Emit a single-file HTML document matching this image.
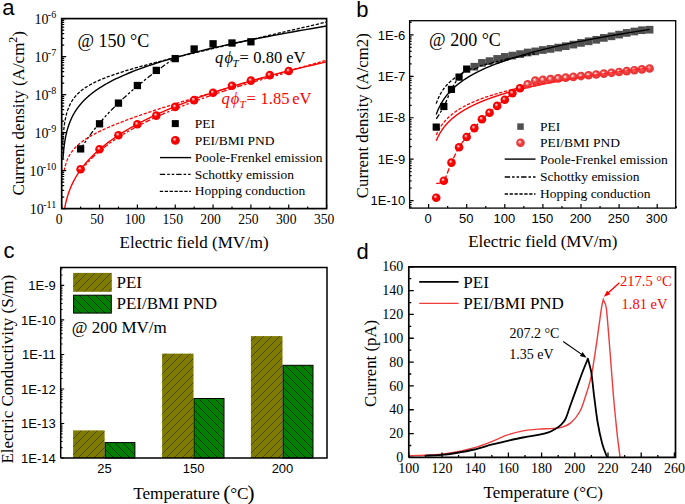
<!DOCTYPE html>
<html><head><meta charset="utf-8"><style>
html,body{margin:0;padding:0;background:#fff;width:685px;height:504px;overflow:hidden}
svg{display:block}

</style></head><body>
<svg width="685" height="504" viewBox="0 0 685 504">
<defs>
<radialGradient id="ball" cx="0.5" cy="0.5" r="0.5" fx="0.36" fy="0.34">
<stop offset="0" stop-color="#fff"/><stop offset="0.22" stop-color="#ff8080"/><stop offset="0.45" stop-color="#f00"/><stop offset="1" stop-color="#e00"/>
</radialGradient>
<radialGradient id="ball2" cx="0.5" cy="0.5" r="0.5" fx="0.38" fy="0.36">
<stop offset="0" stop-color="#fff"/><stop offset="0.25" stop-color="#f59a9a"/><stop offset="0.5" stop-color="#ee4040"/><stop offset="1" stop-color="#e83030"/>
</radialGradient>
<pattern id="hp" patternUnits="userSpaceOnUse" width="8" height="8"><rect width="8" height="8" fill="#7f7a00"/><path d="M-2,2 L2,-2 M0,8 L8,0 M6,10 L10,6" stroke="#454200" stroke-width="0.85"/></pattern>
<pattern id="hg" patternUnits="userSpaceOnUse" width="8" height="8"><rect width="8" height="8" fill="#008000"/><path d="M-2,6 L2,10 M0,0 L8,8 M6,-2 L10,2" stroke="#002400" stroke-width="0.85"/></pattern>
</defs>
<g id="A">
<path d="M62.98,158.61 L63.02,158.08 L63.05,157.55 L63.09,157.02 L63.13,156.49 L63.17,155.96 L63.21,155.42 L63.26,154.89 L63.3,154.36 L63.35,153.83 L63.39,153.29 L63.44,152.76 L63.49,152.23 L63.54,151.69 L63.59,151.16 L63.64,150.62 L63.7,150.08 L63.75,149.55 L63.81,149.01 L63.87,148.47 L63.93,147.94 L64,147.4 L64.06,146.86 L64.13,146.32 L64.2,145.78 L64.27,145.24 L64.34,144.7 L64.41,144.16 L64.49,143.61 L64.57,143.07 L64.65,142.53 L64.73,141.98 L64.82,141.44 L64.9,140.9 L64.99,140.35 L65.09,139.8 L65.18,139.26 L65.28,138.71 L65.38,138.16 L65.48,137.61 L65.59,137.06 L65.7,136.51 L65.81,135.96 L65.93,135.41 L66.05,134.86 L66.17,134.31 L66.3,133.75 L66.43,133.2 L66.56,132.64 L66.7,132.09 L66.84,131.53 L66.98,130.97 L67.13,130.41 L67.28,129.85 L67.44,129.29 L67.6,128.73 L67.77,128.17 L67.94,127.61 L68.11,127.04 L68.29,126.48 L68.48,125.91 L68.67,125.34 L68.87,124.78 L69.07,124.21 L69.28,123.64 L69.49,123.07 L69.71,122.5 L69.94,121.92 L70.17,121.35 L70.41,120.77 L70.65,120.2 L70.9,119.62 L71.16,119.04 L71.43,118.46 L71.7,117.88 L71.98,117.3 L72.27,116.71 L72.57,116.13 L72.88,115.54 L73.19,114.95 L73.52,114.36 L73.85,113.77 L74.19,113.18 L74.54,112.59 L74.9,111.99 L75.28,111.39 L75.66,110.8 L76.05,110.2 L76.45,109.59 L76.87,108.99 L77.3,108.39 L77.74,107.78 L78.19,107.17 L78.65,106.56 L79.13,105.95 L79.62,105.34 L80.12,104.72 L80.64,104.1 L81.18,103.48 L81.72,102.86 L82.29,102.24 L82.87,101.61 L83.46,100.98 L84.08,100.35 L84.71,99.72 L85.36,99.09 L86.02,98.45 L86.71,97.81 L87.41,97.17 L88.13,96.53 L88.88,95.88 L89.64,95.23 L90.43,94.58 L91.24,93.93 L92.07,93.27 L92.93,92.61 L93.81,91.95 L94.71,91.28 L95.64,90.61 L96.59,89.94 L97.58,89.27 L98.59,88.59 L99.63,87.91 L100.69,87.23 L101.79,86.54 L102.92,85.85 L104.08,85.16 L105.27,84.46 L106.5,83.76 L107.76,83.05 L109.06,82.34 L110.39,81.63 L111.76,80.91 L113.17,80.19 L114.62,79.47 L116.11,78.74 L117.65,78.01 L119.22,77.27 L120.84,76.53 L122.51,75.78 L124.22,75.03 L125.98,74.28 L127.79,73.52 L129.65,72.75 L131.56,71.98 L133.53,71.2 L135.55,70.42 L137.63,69.64 L139.77,68.84 L141.97,68.05 L144.23,67.24 L146.55,66.43 L148.94,65.62 L151.4,64.8 L153.92,63.97 L156.52,63.13 L159.19,62.29 L161.93,61.45 L164.75,60.59 L167.66,59.73 L170.64,58.86 L173.71,57.98 L176.86,57.1 L180.1,56.21 L183.44,55.31 L186.86,54.4 L190.39,53.48 L194.01,52.56 L197.74,51.63 L201.57,50.69 L205.51,49.73 L209.56,48.77 L213.72,47.8 L218,46.82 L222.4,45.83 L226.92,44.83 L231.58,43.82 L236.36,42.8 L241.28,41.77 L246.33,40.73 L251.53,39.67 L256.88,38.61 L262.37,37.53 L268.02,36.44 L273.83,35.34 L279.81,34.22 L285.95,33.09 L292.26,31.95 L298.75,30.79 L305.43,29.62 L312.29,28.44 L319.35,27.24 L326.6,26.02" fill="none" stroke="#000" stroke-width="1.4"/>
<path d="M62.46,149.73 L62.48,149.17 L62.5,148.61 L62.52,148.05 L62.55,147.49 L62.57,146.93 L62.59,146.37 L62.62,145.82 L62.64,145.26 L62.67,144.7 L62.7,144.15 L62.72,143.6 L62.75,143.04 L62.78,142.49 L62.81,141.94 L62.84,141.39 L62.87,140.85 L62.91,140.3 L62.94,139.75 L62.97,139.21 L63.01,138.66 L63.05,138.12 L63.08,137.58 L63.12,137.03 L63.16,136.49 L63.2,135.95 L63.24,135.42 L63.28,134.88 L63.33,134.34 L63.37,133.81 L63.42,133.27 L63.47,132.74 L63.52,132.21 L63.57,131.68 L63.62,131.15 L63.67,130.62 L63.72,130.1 L63.78,129.57 L63.84,129.04 L63.9,128.52 L63.96,128 L64.02,127.48 L64.08,126.96 L64.15,126.44 L64.22,125.92 L64.29,125.41 L64.36,124.89 L64.43,124.38 L64.51,123.86 L64.58,123.35 L64.66,122.84 L64.75,122.34 L64.83,121.83 L64.92,121.32 L65,120.82 L65.1,120.31 L65.19,119.81 L65.29,119.31 L65.39,118.81 L65.49,118.31 L65.59,117.82 L65.7,117.32 L65.81,116.83 L65.92,116.34 L66.04,115.84 L66.16,115.35 L66.28,114.87 L66.41,114.38 L66.54,113.89 L66.67,113.41 L66.81,112.92 L66.95,112.44 L67.1,111.96 L67.24,111.48 L67.4,111.01 L67.55,110.53 L67.72,110.06 L67.88,109.58 L68.05,109.11 L68.23,108.64 L68.41,108.17 L68.59,107.7 L68.78,107.23 L68.98,106.77 L69.18,106.31 L69.39,105.84 L69.6,105.38 L69.82,104.92 L70.04,104.46 L70.27,104.01 L70.51,103.55 L70.75,103.1 L71,102.64 L71.26,102.19 L71.52,101.74 L71.79,101.29 L72.07,100.84 L72.36,100.39 L72.65,99.95 L72.95,99.5 L73.26,99.06 L73.58,98.61 L73.91,98.17 L74.25,97.73 L74.6,97.29 L74.95,96.85 L75.32,96.42 L75.69,95.98 L76.08,95.54 L76.48,95.11 L76.88,94.67 L77.3,94.24 L77.73,93.81 L78.18,93.37 L78.63,92.94 L79.1,92.51 L79.58,92.08 L80.07,91.65 L80.58,91.22 L81.1,90.79 L81.64,90.36 L82.19,89.93 L82.75,89.51 L83.33,89.08 L83.93,88.65 L84.54,88.22 L85.17,87.79 L85.82,87.36 L86.49,86.93 L87.17,86.5 L87.88,86.07 L88.6,85.64 L89.34,85.21 L90.1,84.78 L90.89,84.35 L91.69,83.91 L92.52,83.48 L93.37,83.04 L94.25,82.6 L95.14,82.16 L96.07,81.72 L97.02,81.28 L97.99,80.83 L98.99,80.39 L100.02,79.94 L101.08,79.49 L102.17,79.03 L103.28,78.58 L104.43,78.12 L105.61,77.66 L106.82,77.19 L108.07,76.72 L109.35,76.25 L110.67,75.77 L112.02,75.29 L113.41,74.8 L114.83,74.31 L116.3,73.82 L117.81,73.32 L119.36,72.81 L120.95,72.3 L122.58,71.79 L124.26,71.26 L125.99,70.73 L127.77,70.2 L129.59,69.65 L131.46,69.1 L133.39,68.54 L135.37,67.98 L137.4,67.4 L139.49,66.82 L141.64,66.22 L143.84,65.62 L146.11,65.01 L148.44,64.38 L150.84,63.75 L153.3,63.1 L155.83,62.44 L158.42,61.77 L161.09,61.09 L163.84,60.39 L166.66,59.68 L169.55,58.96 L172.53,58.22 L175.59,57.46 L178.73,56.69 L181.96,55.9 L185.28,55.09 L188.7,54.27 L192.2,53.43 L195.8,52.56 L199.51,51.68 L203.31,50.78 L207.22,49.85 L211.23,48.9 L215.36,47.93 L219.6,46.93 L223.96,45.91 L228.44,44.86 L233.04,43.79 L237.77,42.69 L242.63,41.56 L247.63,40.39 L252.76,39.2 L258.04,37.98 L263.46,36.72 L269.02,35.43 L274.75,34.1 L280.63,32.74 L286.67,31.34 L292.88,29.9 L299.26,28.41 L305.82,26.89 L312.56,25.32 L319.48,23.71 L326.6,22.05" fill="none" stroke="#000" stroke-width="1.3" stroke-dasharray="3.3 1.6"/>
<path d="M80.62,149.18 L82.22,146.56 L83.83,144.04 L85.43,141.61 L87.04,139.27 L88.64,136.99 L90.24,134.78 L91.85,132.63 L93.45,130.54 L95.05,128.51 L96.66,126.52 L98.26,124.57 L99.86,122.67 L101.47,120.81 L103.07,118.98 L104.67,117.19 L106.28,115.43 L107.88,113.71 L109.48,112.01 L111.09,110.34 L112.69,108.7 L114.3,107.09 L115.9,105.49 L117.5,103.93 L119.11,102.38 L120.71,100.86 L122.31,99.36 L123.92,97.87 L125.52,96.41 L127.12,94.96 L128.73,93.53 L130.33,92.12 L131.93,90.73 L133.54,89.35 L135.14,87.98 L136.74,86.64 L138.35,85.3 L139.95,83.98 L141.55,82.67 L143.16,81.38 L144.76,80.1 L146.37,78.83 L147.97,77.57 L149.57,76.33 L151.18,75.09 L152.78,73.87 L154.38,72.66 L155.99,71.45 L157.59,70.26 L159.19,69.08 L160.8,67.91 L162.4,66.75 L164,65.59 L165.61,64.45 L167.21,63.31 L168.81,62.18 L170.42,61.07 L172.02,59.96 L173.63,58.85 L175.23,57.76" fill="none" stroke="#000" stroke-width="1.3" stroke-dasharray="5.4 2 2.5 2 2.5 2"/>
<path d="M64.65,208.33 L64.71,207.99 L64.78,207.65 L64.84,207.31 L64.9,206.97 L64.97,206.62 L65.04,206.27 L65.11,205.93 L65.18,205.58 L65.25,205.22 L65.32,204.87 L65.4,204.52 L65.48,204.16 L65.55,203.8 L65.63,203.44 L65.72,203.08 L65.8,202.72 L65.88,202.36 L65.97,201.99 L66.06,201.62 L66.15,201.25 L66.24,200.88 L66.34,200.51 L66.43,200.13 L66.53,199.76 L66.63,199.38 L66.73,199 L66.84,198.62 L66.95,198.23 L67.05,197.85 L67.17,197.46 L67.28,197.07 L67.39,196.68 L67.51,196.28 L67.63,195.89 L67.76,195.49 L67.88,195.09 L68.01,194.69 L68.14,194.29 L68.27,193.88 L68.41,193.47 L68.55,193.07 L68.69,192.65 L68.84,192.24 L68.99,191.82 L69.14,191.41 L69.29,190.99 L69.45,190.56 L69.61,190.14 L69.77,189.71 L69.94,189.28 L70.11,188.85 L70.29,188.42 L70.46,187.98 L70.65,187.54 L70.83,187.1 L71.02,186.66 L71.21,186.21 L71.41,185.76 L71.61,185.31 L71.82,184.86 L72.03,184.4 L72.24,183.95 L72.46,183.49 L72.69,183.02 L72.91,182.56 L73.15,182.09 L73.38,181.62 L73.63,181.14 L73.87,180.67 L74.13,180.19 L74.38,179.71 L74.65,179.22 L74.92,178.73 L75.19,178.24 L75.47,177.75 L75.76,177.25 L76.05,176.75 L76.34,176.25 L76.65,175.75 L76.96,175.24 L77.27,174.73 L77.6,174.22 L77.93,173.7 L78.26,173.18 L78.61,172.66 L78.96,172.13 L79.32,171.6 L79.68,171.07 L80.06,170.53 L80.44,169.99 L80.82,169.45 L81.22,168.9 L81.63,168.36 L82.04,167.8 L82.46,167.25 L82.89,166.69 L83.33,166.13 L83.78,165.56 L84.24,164.99 L84.71,164.42 L85.18,163.84 L85.67,163.26 L86.17,162.68 L86.68,162.09 L87.19,161.5 L87.72,160.9 L88.26,160.31 L88.81,159.7 L89.38,159.1 L89.95,158.49 L90.54,157.87 L91.14,157.26 L91.75,156.63 L92.37,156.01 L93.01,155.38 L93.66,154.74 L94.32,154.11 L95,153.47 L95.69,152.82 L96.39,152.17 L97.11,151.52 L97.85,150.86 L98.6,150.19 L99.36,149.53 L100.14,148.86 L100.94,148.18 L101.75,147.5 L102.58,146.82 L103.43,146.13 L104.3,145.43 L105.18,144.74 L106.08,144.03 L107.01,143.33 L107.95,142.62 L108.9,141.9 L109.88,141.18 L110.88,140.45 L111.9,139.72 L112.95,138.99 L114.01,138.25 L115.09,137.5 L116.2,136.75 L117.33,136 L118.49,135.24 L119.66,134.47 L120.87,133.7 L122.09,132.93 L123.35,132.15 L124.63,131.37 L125.93,130.58 L127.26,129.78 L128.62,128.98 L130.01,128.17 L131.43,127.36 L132.88,126.55 L134.35,125.72 L135.86,124.9 L137.4,124.07 L138.97,123.23 L140.57,122.38 L142.21,121.53 L143.88,120.68 L145.58,119.82 L147.33,118.95 L149.1,118.08 L150.91,117.21 L152.77,116.32 L154.66,115.43 L156.58,114.54 L158.55,113.64 L160.56,112.73 L162.61,111.82 L164.71,110.9 L166.84,109.98 L169.02,109.05 L171.25,108.11 L173.52,107.17 L175.84,106.22 L178.21,105.27 L180.63,104.31 L183.1,103.34 L185.61,102.37 L188.19,101.39 L190.81,100.41 L193.49,99.41 L196.22,98.42 L199.01,97.41 L201.86,96.4 L204.77,95.39 L207.74,94.36 L210.77,93.33 L213.86,92.3 L217.02,91.26 L220.24,90.21 L223.53,89.15 L226.89,88.09 L230.31,87.02 L233.81,85.95 L237.38,84.87 L241.03,83.78 L244.75,82.69 L248.54,81.58 L252.42,80.48 L256.38,79.36 L260.42,78.24 L264.54,77.11 L268.75,75.98 L273.04,74.84 L277.43,73.69 L281.9,72.54 L286.47,71.38 L291.13,70.21 L295.89,69.04 L300.75,67.85 L305.71,66.67 L310.77,65.47 L315.94,64.27 L321.22,63.06 L326.6,61.85" fill="none" stroke="#f00" stroke-width="1.4"/>
<path d="M64.15,170.86 L64.2,170.57 L64.26,170.27 L64.31,169.98 L64.37,169.69 L64.43,169.39 L64.49,169.1 L64.55,168.81 L64.62,168.51 L64.68,168.22 L64.75,167.93 L64.82,167.63 L64.88,167.34 L64.95,167.05 L65.03,166.75 L65.1,166.46 L65.18,166.17 L65.25,165.87 L65.33,165.58 L65.41,165.29 L65.49,165 L65.58,164.7 L65.66,164.41 L65.75,164.12 L65.84,163.82 L65.93,163.53 L66.03,163.24 L66.12,162.95 L66.22,162.65 L66.32,162.36 L66.42,162.07 L66.53,161.77 L66.63,161.48 L66.74,161.19 L66.85,160.89 L66.97,160.6 L67.08,160.31 L67.2,160.01 L67.33,159.72 L67.45,159.43 L67.58,159.13 L67.71,158.84 L67.84,158.54 L67.98,158.25 L68.11,157.96 L68.26,157.66 L68.4,157.37 L68.55,157.07 L68.7,156.78 L68.86,156.48 L69.01,156.18 L69.18,155.89 L69.34,155.59 L69.51,155.3 L69.68,155 L69.86,154.7 L70.04,154.4 L70.23,154.11 L70.41,153.81 L70.61,153.51 L70.8,153.21 L71.01,152.91 L71.21,152.61 L71.42,152.31 L71.64,152.01 L71.86,151.71 L72.08,151.4 L72.31,151.1 L72.55,150.8 L72.79,150.5 L73.03,150.19 L73.28,149.89 L73.54,149.58 L73.8,149.27 L74.07,148.97 L74.34,148.66 L74.62,148.35 L74.91,148.04 L75.2,147.73 L75.5,147.42 L75.8,147.11 L76.12,146.79 L76.44,146.48 L76.76,146.17 L77.1,145.85 L77.44,145.53 L77.78,145.21 L78.14,144.9 L78.5,144.58 L78.88,144.25 L79.26,143.93 L79.64,143.61 L80.04,143.28 L80.45,142.95 L80.86,142.63 L81.29,142.3 L81.72,141.97 L82.16,141.63 L82.62,141.3 L83.08,140.96 L83.55,140.63 L84.03,140.29 L84.53,139.94 L85.03,139.6 L85.55,139.26 L86.08,138.91 L86.62,138.56 L87.17,138.21 L87.73,137.86 L88.31,137.5 L88.9,137.14 L89.5,136.78 L90.11,136.42 L90.74,136.05 L91.39,135.69 L92.04,135.32 L92.71,134.94 L93.4,134.57 L94.1,134.19 L94.82,133.81 L95.55,133.42 L96.3,133.04 L97.07,132.64 L97.85,132.25 L98.65,131.85 L99.47,131.45 L100.3,131.05 L101.16,130.64 L102.03,130.23 L102.92,129.81 L103.83,129.39 L104.77,128.97 L105.72,128.54 L106.69,128.11 L107.69,127.67 L108.71,127.23 L109.75,126.78 L110.81,126.33 L111.9,125.87 L113.01,125.41 L114.14,124.95 L115.3,124.47 L116.49,124 L117.7,123.51 L118.94,123.03 L120.21,122.53 L121.5,122.03 L122.83,121.53 L124.18,121.01 L125.56,120.49 L126.97,119.97 L128.42,119.43 L129.89,118.89 L131.4,118.34 L132.95,117.79 L134.52,117.23 L136.13,116.66 L137.78,116.08 L139.46,115.49 L141.19,114.9 L142.94,114.29 L144.74,113.68 L146.58,113.06 L148.46,112.43 L150.38,111.79 L152.34,111.14 L154.35,110.47 L156.4,109.8 L158.49,109.12 L160.63,108.43 L162.82,107.73 L165.06,107.01 L167.35,106.28 L169.68,105.55 L172.07,104.8 L174.52,104.03 L177.01,103.26 L179.56,102.47 L182.17,101.66 L184.84,100.85 L187.56,100.02 L190.35,99.17 L193.2,98.31 L196.11,97.43 L199.08,96.54 L202.12,95.64 L205.23,94.71 L208.4,93.77 L211.65,92.81 L214.97,91.84 L218.36,90.85 L221.82,89.83 L225.37,88.8 L228.99,87.75 L232.69,86.68 L236.48,85.59 L240.34,84.48 L244.3,83.35 L248.34,82.19 L252.47,81.02 L256.69,79.82 L261,78.59 L265.41,77.35 L269.92,76.07 L274.53,74.78 L279.24,73.45 L284.05,72.11 L288.97,70.73 L294,69.32 L299.14,67.89 L304.39,66.43 L309.77,64.94 L315.25,63.42 L320.87,61.86 L326.6,60.28" fill="none" stroke="#f00" stroke-width="1.3" stroke-dasharray="3.3 1.6"/>
<path d="M80.62,171.22 L83.26,167.74 L85.89,164.55 L88.53,161.6 L91.16,158.86 L93.79,156.28 L96.43,153.85 L99.06,151.55 L101.7,149.35 L104.33,147.25 L106.97,145.24 L109.6,143.31 L112.24,141.45 L114.87,139.66 L117.51,137.92 L120.14,136.24 L122.78,134.61 L125.41,133.02 L128.04,131.48 L130.68,129.97 L133.31,128.51 L135.95,127.08 L138.58,125.68 L141.22,124.31 L143.85,122.98 L146.49,121.67 L149.12,120.38 L151.76,119.12 L154.39,117.89 L157.03,116.68 L159.66,115.48 L162.29,114.31 L164.93,113.16 L167.56,112.03 L170.2,110.91 L172.83,109.81 L175.47,108.73 L178.1,107.67 L180.74,106.62 L183.37,105.58 L186.01,104.56 L188.64,103.55 L191.28,102.55 L193.91,101.57 L196.55,100.6 L199.18,99.64 L201.81,98.69 L204.45,97.76 L207.08,96.83 L209.72,95.92 L212.35,95.01 L214.99,94.12 L217.62,93.23 L220.26,92.35 L222.89,91.49 L225.53,90.63 L228.16,89.78 L230.8,88.93 L233.43,88.1 L236.06,87.27 L238.7,86.46 L241.33,85.64 L243.97,84.84 L246.6,84.04 L249.24,83.25 L251.87,82.47 L254.51,81.69 L257.14,80.92 L259.78,80.16 L262.41,79.4 L265.05,78.65 L267.68,77.9 L270.31,77.16 L272.95,76.43 L275.58,75.7 L278.22,74.98 L280.85,74.26 L283.49,73.55 L286.12,72.84 L288.76,72.13" fill="none" stroke="#f00" stroke-width="1.3" stroke-dasharray="5.4 2 2.5 2 2.5 2"/>
<rect x="76.97" y="145.25" width="7.3" height="7.3" fill="#000"/>
<rect x="95.89" y="120.15" width="7.3" height="7.3" fill="#000"/>
<rect x="114.81" y="99.45" width="7.3" height="7.3" fill="#000"/>
<rect x="133.74" y="81.85" width="7.3" height="7.3" fill="#000"/>
<rect x="152.66" y="66.75" width="7.3" height="7.3" fill="#000"/>
<rect x="171.58" y="54.95" width="7.3" height="7.3" fill="#000"/>
<rect x="190.5" y="45.35" width="7.3" height="7.3" fill="#000"/>
<rect x="209.42" y="40.15" width="7.3" height="7.3" fill="#000"/>
<rect x="228.34" y="39.35" width="7.3" height="7.3" fill="#000"/>
<rect x="247.26" y="38.15" width="7.3" height="7.3" fill="#000"/>
<circle cx="80.62" cy="169.3" r="4.3" fill="url(#ball)"/>
<circle cx="99.54" cy="149.3" r="4.3" fill="url(#ball)"/>
<circle cx="118.46" cy="135.2" r="4.3" fill="url(#ball)"/>
<circle cx="137.39" cy="124.3" r="4.3" fill="url(#ball)"/>
<circle cx="156.31" cy="115.6" r="4.3" fill="url(#ball)"/>
<circle cx="175.23" cy="106.9" r="4.3" fill="url(#ball)"/>
<circle cx="194.15" cy="100.1" r="4.3" fill="url(#ball)"/>
<circle cx="213.07" cy="92.8" r="4.3" fill="url(#ball)"/>
<circle cx="231.99" cy="85.8" r="4.3" fill="url(#ball)"/>
<circle cx="250.91" cy="80.6" r="4.3" fill="url(#ball)"/>
<circle cx="269.84" cy="75.1" r="4.3" fill="url(#ball)"/>
<circle cx="288.76" cy="71" r="4.3" fill="url(#ball)"/>
<rect x="61.7" y="18.6" width="264.9" height="190" fill="none" stroke="#000" stroke-width="1.7"/>
<path d="M61.7,208.6 h4.5 M61.7,197.16 h2.5 M61.7,190.47 h2.5 M61.7,185.72 h2.5 M61.7,182.04 h2.5 M61.7,179.03 h2.5 M61.7,176.49 h2.5 M61.7,174.28 h2.5 M61.7,172.34 h2.5 M61.7,170.6 h4.5 M61.7,159.16 h2.5 M61.7,152.47 h2.5 M61.7,147.72 h2.5 M61.7,144.04 h2.5 M61.7,141.03 h2.5 M61.7,138.49 h2.5 M61.7,136.28 h2.5 M61.7,134.34 h2.5 M61.7,132.6 h4.5 M61.7,121.16 h2.5 M61.7,114.47 h2.5 M61.7,109.72 h2.5 M61.7,106.04 h2.5 M61.7,103.03 h2.5 M61.7,100.49 h2.5 M61.7,98.28 h2.5 M61.7,96.34 h2.5 M61.7,94.6 h4.5 M61.7,83.16 h2.5 M61.7,76.47 h2.5 M61.7,71.72 h2.5 M61.7,68.04 h2.5 M61.7,65.03 h2.5 M61.7,62.49 h2.5 M61.7,60.28 h2.5 M61.7,58.34 h2.5 M61.7,56.6 h4.5 M61.7,45.16 h2.5 M61.7,38.47 h2.5 M61.7,33.72 h2.5 M61.7,30.04 h2.5 M61.7,27.03 h2.5 M61.7,24.49 h2.5 M61.7,22.28 h2.5 M61.7,20.34 h2.5 M61.7,18.6 h4.5 M61.7,208.6 v-4 M80.62,208.6 v-2 M99.54,208.6 v-4 M118.46,208.6 v-2 M137.39,208.6 v-4 M156.31,208.6 v-2 M175.23,208.6 v-4 M194.15,208.6 v-2 M213.07,208.6 v-4 M231.99,208.6 v-2 M250.91,208.6 v-4 M269.84,208.6 v-2 M288.76,208.6 v-4 M307.68,208.6 v-2 M326.6,208.6 v-4" stroke="#000" stroke-width="1.2" fill="none"/>
<text x="56.2" y="213.8" text-anchor="end" font-family="Liberation Serif" font-size="14">10<tspan font-size="10" dy="-5.6" dx="-0.6">-11</tspan></text>
<text x="56.2" y="175.8" text-anchor="end" font-family="Liberation Serif" font-size="14">10<tspan font-size="10" dy="-5.6" dx="-0.6">-10</tspan></text>
<text x="56.2" y="137.8" text-anchor="end" font-family="Liberation Serif" font-size="14">10<tspan font-size="10" dy="-5.6" dx="-0.6">-9</tspan></text>
<text x="56.2" y="99.8" text-anchor="end" font-family="Liberation Serif" font-size="14">10<tspan font-size="10" dy="-5.6" dx="-0.6">-8</tspan></text>
<text x="56.2" y="61.8" text-anchor="end" font-family="Liberation Serif" font-size="14">10<tspan font-size="10" dy="-5.6" dx="-0.6">-7</tspan></text>
<text x="56.2" y="23.8" text-anchor="end" font-family="Liberation Serif" font-size="14">10<tspan font-size="10" dy="-5.6" dx="-0.6">-6</tspan></text>
<text x="59.2" y="223.6" text-anchor="middle" font-family="Liberation Serif" font-size="13.6">0</text>
<text x="97.04" y="223.6" text-anchor="middle" font-family="Liberation Serif" font-size="13.6">50</text>
<text x="134.89" y="223.6" text-anchor="middle" font-family="Liberation Serif" font-size="13.6">100</text>
<text x="172.73" y="223.6" text-anchor="middle" font-family="Liberation Serif" font-size="13.6">150</text>
<text x="210.57" y="223.6" text-anchor="middle" font-family="Liberation Serif" font-size="13.6">200</text>
<text x="248.41" y="223.6" text-anchor="middle" font-family="Liberation Serif" font-size="13.6">250</text>
<text x="286.26" y="223.6" text-anchor="middle" font-family="Liberation Serif" font-size="13.6">300</text>
<text x="324.1" y="223.6" text-anchor="middle" font-family="Liberation Serif" font-size="13.6">350</text>
<text transform="translate(24,195.6) rotate(-90)" font-family="Liberation Serif" font-size="17">Current density (A/cm<tspan font-size="12" dy="-7">2</tspan><tspan dy="7">)</tspan></text>
<text x="119.6" y="248.4" font-family="Liberation Serif" font-size="17">Electric field (MV/m)</text>
<text x="77.4" y="46.7" font-family="Liberation Serif" font-size="18">@ 150 °C</text>
<g fill="#000" font-family="Liberation Serif" font-size="16.5"><text x="215" y="62.6" font-style="italic">q</text><text x="224.6" y="62.6" font-style="italic">ϕ</text><text x="232.4" y="66.8" font-style="italic" font-size="11">T</text><text x="239.5" y="62.6">=</text><text x="253.3" y="62.6">0.80</text><text x="286.3" y="62.6">eV</text></g>
<g fill="#f00" font-family="Liberation Serif" font-size="16.5"><text x="221.6" y="104.1" font-style="italic">q</text><text x="230.7" y="104.1" font-style="italic">ϕ</text><text x="239.4" y="108.3" font-style="italic" font-size="11">T</text><text x="246.5" y="104.1">=</text><text x="260.5" y="104.1">1.85</text><text x="292.2" y="104.1">eV</text></g>
<rect x="171.8" y="120.1" width="7" height="7" fill="#000"/>
<circle cx="175.4" cy="140.4" r="4.4" fill="url(#ball)"/>
<path d="M160,157.6 H191.2" stroke="#000" stroke-width="1.4"/>
<path d="M159.8,174.4 H191" stroke="#000" stroke-width="1.3" stroke-dasharray="5.4 2 2.5 2 2.5 2"/>
<path d="M159.8,191.3 H191" stroke="#000" stroke-width="1.3" stroke-dasharray="3.3 1.6"/>
<text x="194.7" y="127.9" font-family="Liberation Serif" font-size="13.5">PEI</text>
<text x="194.7" y="144.9" font-family="Liberation Serif" font-size="13.5">PEI/BMI PND</text>
<text x="194.7" y="161.8" font-family="Liberation Serif" font-size="13.5">Poole-Frenkel emission</text>
<text x="194.7" y="178.8" font-family="Liberation Serif" font-size="13.5">Schottky emission</text>
<text x="194.7" y="195.4" font-family="Liberation Serif" font-size="13.5">Hopping conduction</text>
<text x="2.2" y="15.2" font-family="Liberation Sans" font-size="22">a</text>
</g>
<g id="B">
<path d="M436.22,114.53 L436.34,114.2 L436.46,113.86 L436.58,113.53 L436.7,113.2 L436.83,112.86 L436.96,112.53 L437.09,112.19 L437.22,111.86 L437.35,111.52 L437.49,111.19 L437.62,110.85 L437.76,110.52 L437.91,110.18 L438.05,109.85 L438.2,109.51 L438.35,109.17 L438.5,108.84 L438.65,108.5 L438.81,108.16 L438.96,107.83 L439.12,107.49 L439.29,107.15 L439.45,106.81 L439.62,106.47 L439.79,106.14 L439.97,105.8 L440.14,105.46 L440.32,105.12 L440.5,104.78 L440.69,104.44 L440.87,104.1 L441.06,103.76 L441.26,103.42 L441.45,103.08 L441.65,102.73 L441.85,102.39 L442.06,102.05 L442.27,101.71 L442.48,101.37 L442.69,101.02 L442.91,100.68 L443.13,100.34 L443.36,99.99 L443.59,99.65 L443.82,99.31 L444.06,98.96 L444.3,98.62 L444.54,98.27 L444.79,97.92 L445.04,97.58 L445.29,97.23 L445.55,96.89 L445.81,96.54 L446.08,96.19 L446.35,95.84 L446.63,95.5 L446.91,95.15 L447.19,94.8 L447.48,94.45 L447.77,94.1 L448.07,93.75 L448.37,93.4 L448.67,93.05 L448.99,92.7 L449.3,92.35 L449.62,92 L449.95,91.65 L450.28,91.29 L450.61,90.94 L450.96,90.59 L451.3,90.23 L451.65,89.88 L452.01,89.53 L452.37,89.17 L452.74,88.82 L453.12,88.46 L453.5,88.1 L453.88,87.75 L454.27,87.39 L454.67,87.03 L455.08,86.67 L455.49,86.32 L455.9,85.96 L456.33,85.6 L456.75,85.24 L457.19,84.88 L457.63,84.52 L458.08,84.16 L458.54,83.8 L459,83.43 L459.48,83.07 L459.95,82.71 L460.44,82.34 L460.93,81.98 L461.43,81.61 L461.94,81.25 L462.46,80.88 L462.98,80.52 L463.52,80.15 L464.06,79.78 L464.61,79.42 L465.17,79.05 L465.73,78.68 L466.31,78.31 L466.89,77.94 L467.49,77.57 L468.09,77.2 L468.7,76.82 L469.32,76.45 L469.95,76.08 L470.59,75.7 L471.24,75.33 L471.9,74.95 L472.57,74.58 L473.26,74.2 L473.95,73.82 L474.65,73.45 L475.36,73.07 L476.09,72.69 L476.82,72.31 L477.57,71.93 L478.33,71.55 L479.1,71.17 L479.88,70.78 L480.68,70.4 L481.49,70.02 L482.3,69.63 L483.14,69.25 L483.98,68.86 L484.84,68.47 L485.71,68.08 L486.6,67.7 L487.49,67.31 L488.41,66.92 L489.33,66.52 L490.28,66.13 L491.23,65.74 L492.2,65.35 L493.19,64.95 L494.19,64.56 L495.2,64.16 L496.24,63.76 L497.28,63.37 L498.35,62.97 L499.43,62.57 L500.53,62.17 L501.64,61.76 L502.77,61.36 L503.92,60.96 L505.09,60.55 L506.27,60.15 L507.48,59.74 L508.7,59.33 L509.94,58.93 L511.2,58.52 L512.48,58.11 L513.78,57.69 L515.1,57.28 L516.44,56.87 L517.8,56.45 L519.18,56.04 L520.59,55.62 L522.01,55.2 L523.46,54.78 L524.93,54.36 L526.42,53.94 L527.94,53.52 L529.48,53.09 L531.04,52.67 L532.63,52.24 L534.24,51.81 L535.88,51.38 L537.54,50.95 L539.23,50.52 L540.94,50.09 L542.68,49.66 L544.45,49.22 L546.24,48.78 L548.07,48.35 L549.92,47.91 L551.8,47.46 L553.71,47.02 L555.65,46.58 L557.61,46.13 L559.61,45.69 L561.64,45.24 L563.7,44.79 L565.8,44.34 L567.92,43.88 L570.08,43.43 L572.27,42.97 L574.5,42.52 L576.76,42.06 L579.06,41.6 L581.39,41.13 L583.76,40.67 L586.16,40.2 L588.6,39.74 L591.08,39.27 L593.6,38.8 L596.15,38.32 L598.75,37.85 L601.39,37.37 L604.06,36.89 L606.78,36.41 L609.54,35.93 L612.35,35.45 L615.19,34.96 L618.09,34.47 L621.02,33.98 L624,33.49 L627.03,33 L630.11,32.5 L633.23,32 L636.4,31.5 L639.62,31 L642.89,30.5 L646.21,29.99 L649.58,29.48" fill="none" stroke="#000" stroke-width="1.4"/>
<path d="M436.22,103.66 L436.34,103.31 L436.46,102.96 L436.58,102.61 L436.7,102.26 L436.83,101.92 L436.96,101.57 L437.09,101.23 L437.22,100.88 L437.35,100.54 L437.49,100.19 L437.62,99.85 L437.76,99.51 L437.91,99.17 L438.05,98.83 L438.2,98.49 L438.35,98.15 L438.5,97.81 L438.65,97.48 L438.81,97.14 L438.96,96.8 L439.12,96.47 L439.29,96.14 L439.45,95.8 L439.62,95.47 L439.79,95.14 L439.97,94.81 L440.14,94.48 L440.32,94.15 L440.5,93.82 L440.69,93.49 L440.87,93.17 L441.06,92.84 L441.26,92.52 L441.45,92.19 L441.65,91.87 L441.85,91.55 L442.06,91.22 L442.27,90.9 L442.48,90.58 L442.69,90.26 L442.91,89.94 L443.13,89.63 L443.36,89.31 L443.59,88.99 L443.82,88.68 L444.06,88.36 L444.3,88.05 L444.54,87.73 L444.79,87.42 L445.04,87.11 L445.29,86.8 L445.55,86.49 L445.81,86.18 L446.08,85.87 L446.35,85.56 L446.63,85.25 L446.91,84.95 L447.19,84.64 L447.48,84.33 L447.77,84.03 L448.07,83.73 L448.37,83.42 L448.67,83.12 L448.99,82.82 L449.3,82.52 L449.62,82.22 L449.95,81.92 L450.28,81.62 L450.61,81.32 L450.96,81.02 L451.3,80.72 L451.65,80.43 L452.01,80.13 L452.37,79.83 L452.74,79.54 L453.12,79.24 L453.5,78.95 L453.88,78.66 L454.27,78.37 L454.67,78.07 L455.08,77.78 L455.49,77.49 L455.9,77.2 L456.33,76.91 L456.75,76.62 L457.19,76.33 L457.63,76.05 L458.08,75.76 L458.54,75.47 L459,75.18 L459.48,74.9 L459.95,74.61 L460.44,74.32 L460.93,74.04 L461.43,73.75 L461.94,73.47 L462.46,73.19 L462.98,72.9 L463.52,72.62 L464.06,72.33 L464.61,72.05 L465.17,71.77 L465.73,71.49 L466.31,71.2 L466.89,70.92 L467.49,70.64 L468.09,70.36 L468.7,70.08 L469.32,69.8 L469.95,69.51 L470.59,69.23 L471.24,68.95 L471.9,68.67 L472.57,68.39 L473.26,68.11 L473.95,67.83 L474.65,67.55 L475.36,67.26 L476.09,66.98 L476.82,66.7 L477.57,66.42 L478.33,66.14 L479.1,65.85 L479.88,65.57 L480.68,65.29 L481.49,65.01 L482.3,64.72 L483.14,64.44 L483.98,64.15 L484.84,63.87 L485.71,63.58 L486.6,63.3 L487.49,63.01 L488.41,62.72 L489.33,62.44 L490.28,62.15 L491.23,61.86 L492.2,61.57 L493.19,61.28 L494.19,60.99 L495.2,60.7 L496.24,60.4 L497.28,60.11 L498.35,59.81 L499.43,59.52 L500.53,59.22 L501.64,58.92 L502.77,58.62 L503.92,58.32 L505.09,58.02 L506.27,57.71 L507.48,57.41 L508.7,57.1 L509.94,56.79 L511.2,56.48 L512.48,56.17 L513.78,55.86 L515.1,55.54 L516.44,55.23 L517.8,54.91 L519.18,54.59 L520.59,54.27 L522.01,53.94 L523.46,53.62 L524.93,53.29 L526.42,52.96 L527.94,52.62 L529.48,52.29 L531.04,51.95 L532.63,51.61 L534.24,51.26 L535.88,50.92 L537.54,50.57 L539.23,50.21 L540.94,49.86 L542.68,49.5 L544.45,49.14 L546.24,48.77 L548.07,48.41 L549.92,48.03 L551.8,47.66 L553.71,47.28 L555.65,46.9 L557.61,46.51 L559.61,46.12 L561.64,45.73 L563.7,45.33 L565.8,44.93 L567.92,44.52 L570.08,44.11 L572.27,43.69 L574.5,43.27 L576.76,42.85 L579.06,42.42 L581.39,41.98 L583.76,41.54 L586.16,41.09 L588.6,40.64 L591.08,40.19 L593.6,39.72 L596.15,39.26 L598.75,38.78 L601.39,38.3 L604.06,37.81 L606.78,37.32 L609.54,36.82 L612.35,36.32 L615.19,35.8 L618.09,35.28 L621.02,34.75 L624,34.22 L627.03,33.68 L630.11,33.13 L633.23,32.57 L636.4,32.01 L639.62,31.43 L642.89,30.85 L646.21,30.26 L649.58,29.66" fill="none" stroke="#000" stroke-width="1.3" stroke-dasharray="3.3 1.6"/>
<path d="M436.22,140.84 L436.34,140.55 L436.46,140.25 L436.58,139.96 L436.7,139.67 L436.83,139.37 L436.96,139.08 L437.09,138.79 L437.22,138.49 L437.35,138.2 L437.49,137.9 L437.62,137.61 L437.76,137.31 L437.91,137.02 L438.05,136.72 L438.2,136.43 L438.35,136.13 L438.5,135.84 L438.65,135.54 L438.81,135.24 L438.96,134.95 L439.12,134.65 L439.29,134.35 L439.45,134.05 L439.62,133.75 L439.79,133.46 L439.97,133.16 L440.14,132.86 L440.32,132.56 L440.5,132.26 L440.69,131.96 L440.87,131.66 L441.06,131.36 L441.26,131.06 L441.45,130.76 L441.65,130.46 L441.85,130.16 L442.06,129.85 L442.27,129.55 L442.48,129.25 L442.69,128.95 L442.91,128.64 L443.13,128.34 L443.36,128.04 L443.59,127.73 L443.82,127.43 L444.06,127.12 L444.3,126.82 L444.54,126.51 L444.79,126.21 L445.04,125.9 L445.29,125.6 L445.55,125.29 L445.81,124.98 L446.08,124.68 L446.35,124.37 L446.63,124.06 L446.91,123.75 L447.19,123.45 L447.48,123.14 L447.77,122.83 L448.07,122.52 L448.37,122.21 L448.67,121.9 L448.99,121.59 L449.3,121.28 L449.62,120.97 L449.95,120.66 L450.28,120.34 L450.61,120.03 L450.96,119.72 L451.3,119.41 L451.65,119.09 L452.01,118.78 L452.37,118.47 L452.74,118.15 L453.12,117.84 L453.5,117.52 L453.88,117.21 L454.27,116.89 L454.67,116.58 L455.08,116.26 L455.49,115.94 L455.9,115.63 L456.33,115.31 L456.75,114.99 L457.19,114.67 L457.63,114.35 L458.08,114.03 L458.54,113.71 L459,113.39 L459.48,113.07 L459.95,112.75 L460.44,112.43 L460.93,112.11 L461.43,111.79 L461.94,111.47 L462.46,111.14 L462.98,110.82 L463.52,110.5 L464.06,110.17 L464.61,109.85 L465.17,109.52 L465.73,109.2 L466.31,108.87 L466.89,108.54 L467.49,108.22 L468.09,107.89 L468.7,107.56 L469.32,107.24 L469.95,106.91 L470.59,106.58 L471.24,106.25 L471.9,105.92 L472.57,105.59 L473.26,105.26 L473.95,104.93 L474.65,104.59 L475.36,104.26 L476.09,103.93 L476.82,103.6 L477.57,103.26 L478.33,102.93 L479.1,102.6 L479.88,102.26 L480.68,101.93 L481.49,101.59 L482.3,101.25 L483.14,100.92 L483.98,100.58 L484.84,100.24 L485.71,99.9 L486.6,99.56 L487.49,99.22 L488.41,98.88 L489.33,98.54 L490.28,98.2 L491.23,97.86 L492.2,97.52 L493.19,97.18 L494.19,96.84 L495.2,96.49 L496.24,96.15 L497.28,95.8 L498.35,95.46 L499.43,95.11 L500.53,94.77 L501.64,94.42 L502.77,94.07 L503.92,93.73 L505.09,93.38 L506.27,93.03 L507.48,92.68 L508.7,92.33 L509.94,91.98 L511.2,91.63 L512.48,91.28 L513.78,90.93 L515.1,90.58 L516.44,90.22 L517.8,89.87 L519.18,89.52 L520.59,89.16 L522.01,88.81 L523.46,88.45 L524.93,88.09 L526.42,87.74 L527.94,87.38 L529.48,87.02 L531.04,86.66 L532.63,86.31 L534.24,85.95 L535.88,85.59 L537.54,85.23 L539.23,84.86 L540.94,84.5 L542.68,84.14 L544.45,83.78 L546.24,83.41 L548.07,83.05 L549.92,82.68 L551.8,82.32 L553.71,81.95 L555.65,81.59 L557.61,81.22 L559.61,80.85 L561.64,80.48 L563.7,80.12 L565.8,79.75 L567.92,79.38 L570.08,79.01 L572.27,78.64 L574.5,78.26 L576.76,77.89 L579.06,77.52 L581.39,77.15 L583.76,76.77 L586.16,76.4 L588.6,76.02 L591.08,75.65 L593.6,75.27 L596.15,74.89 L598.75,74.52 L601.39,74.14 L604.06,73.76 L606.78,73.38 L609.54,73 L612.35,72.62 L615.19,72.24 L618.09,71.86 L621.02,71.48 L624,71.09 L627.03,70.71 L630.11,70.33 L633.23,69.94 L636.4,69.56 L639.62,69.17 L642.89,68.78 L646.21,68.4 L649.58,68.01" fill="none" stroke="#f00" stroke-width="1.4"/>
<path d="M436.22,135.01 L436.34,134.73 L436.46,134.45 L436.58,134.17 L436.7,133.89 L436.83,133.61 L436.96,133.33 L437.09,133.05 L437.22,132.77 L437.35,132.49 L437.49,132.21 L437.62,131.93 L437.76,131.65 L437.91,131.37 L438.05,131.09 L438.2,130.81 L438.35,130.53 L438.5,130.24 L438.65,129.96 L438.81,129.68 L438.96,129.4 L439.12,129.12 L439.29,128.84 L439.45,128.56 L439.62,128.27 L439.79,127.99 L439.97,127.71 L440.14,127.43 L440.32,127.15 L440.5,126.86 L440.69,126.58 L440.87,126.3 L441.06,126.02 L441.26,125.73 L441.45,125.45 L441.65,125.17 L441.85,124.89 L442.06,124.6 L442.27,124.32 L442.48,124.04 L442.69,123.75 L442.91,123.47 L443.13,123.19 L443.36,122.9 L443.59,122.62 L443.82,122.33 L444.06,122.05 L444.3,121.76 L444.54,121.48 L444.79,121.2 L445.04,120.91 L445.29,120.63 L445.55,120.34 L445.81,120.06 L446.08,119.77 L446.35,119.49 L446.63,119.2 L446.91,118.91 L447.19,118.63 L447.48,118.34 L447.77,118.06 L448.07,117.77 L448.37,117.48 L448.67,117.2 L448.99,116.91 L449.3,116.62 L449.62,116.33 L449.95,116.05 L450.28,115.76 L450.61,115.47 L450.96,115.18 L451.3,114.9 L451.65,114.61 L452.01,114.32 L452.37,114.03 L452.74,113.74 L453.12,113.45 L453.5,113.16 L453.88,112.87 L454.27,112.59 L454.67,112.3 L455.08,112.01 L455.49,111.72 L455.9,111.43 L456.33,111.13 L456.75,110.84 L457.19,110.55 L457.63,110.26 L458.08,109.97 L458.54,109.68 L459,109.39 L459.48,109.09 L459.95,108.8 L460.44,108.51 L460.93,108.22 L461.43,107.92 L461.94,107.63 L462.46,107.34 L462.98,107.04 L463.52,106.75 L464.06,106.46 L464.61,106.16 L465.17,105.87 L465.73,105.57 L466.31,105.28 L466.89,104.98 L467.49,104.68 L468.09,104.39 L468.7,104.09 L469.32,103.8 L469.95,103.5 L470.59,103.2 L471.24,102.9 L471.9,102.61 L472.57,102.31 L473.26,102.01 L473.95,101.71 L474.65,101.41 L475.36,101.11 L476.09,100.81 L476.82,100.51 L477.57,100.21 L478.33,99.91 L479.1,99.61 L479.88,99.31 L480.68,99.01 L481.49,98.7 L482.3,98.4 L483.14,98.1 L483.98,97.8 L484.84,97.49 L485.71,97.19 L486.6,96.88 L487.49,96.58 L488.41,96.27 L489.33,95.97 L490.28,95.66 L491.23,95.36 L492.2,95.05 L493.19,94.74 L494.19,94.43 L495.2,94.13 L496.24,93.82 L497.28,93.51 L498.35,93.2 L499.43,92.89 L500.53,92.58 L501.64,92.27 L502.77,91.96 L503.92,91.65 L505.09,91.33 L506.27,91.02 L507.48,90.71 L508.7,90.39 L509.94,90.08 L511.2,89.77 L512.48,89.45 L513.78,89.13 L515.1,88.82 L516.44,88.5 L517.8,88.18 L519.18,87.87 L520.59,87.55 L522.01,87.23 L523.46,86.91 L524.93,86.59 L526.42,86.27 L527.94,85.94 L529.48,85.62 L531.04,85.3 L532.63,84.98 L534.24,84.65 L535.88,84.33 L537.54,84 L539.23,83.68 L540.94,83.35 L542.68,83.02 L544.45,82.69 L546.24,82.36 L548.07,82.03 L549.92,81.7 L551.8,81.37 L553.71,81.04 L555.65,80.71 L557.61,80.37 L559.61,80.04 L561.64,79.71 L563.7,79.37 L565.8,79.03 L567.92,78.7 L570.08,78.36 L572.27,78.02 L574.5,77.68 L576.76,77.34 L579.06,76.99 L581.39,76.65 L583.76,76.31 L586.16,75.96 L588.6,75.62 L591.08,75.27 L593.6,74.92 L596.15,74.58 L598.75,74.23 L601.39,73.88 L604.06,73.53 L606.78,73.17 L609.54,72.82 L612.35,72.46 L615.19,72.11 L618.09,71.75 L621.02,71.39 L624,71.04 L627.03,70.68 L630.11,70.31 L633.23,69.95 L636.4,69.59 L639.62,69.22 L642.89,68.86 L646.21,68.49 L649.58,68.12" fill="none" stroke="#f00" stroke-width="1.3" stroke-dasharray="3.3 1.6"/>
<rect x="432.62" y="123.5" width="7.2" height="7.2" fill="#000"/>
<rect x="440.24" y="102.9" width="7.2" height="7.2" fill="#000"/>
<rect x="447.86" y="85.8" width="7.2" height="7.2" fill="#000"/>
<rect x="455.48" y="73.5" width="7.2" height="7.2" fill="#000"/>
<rect x="463.1" y="65.5" width="7.2" height="7.2" fill="#000"/>
<rect x="470.47" y="62.85" width="7.7" height="7.7" fill="#505050"/>
<rect x="478.09" y="59.05" width="7.7" height="7.7" fill="#505050"/>
<rect x="485.71" y="57.25" width="7.7" height="7.7" fill="#505050"/>
<rect x="493.33" y="55.05" width="7.7" height="7.7" fill="#505050"/>
<rect x="500.95" y="53.05" width="7.7" height="7.7" fill="#505050"/>
<rect x="508.57" y="51.75" width="7.7" height="7.7" fill="#505050"/>
<rect x="516.19" y="50.25" width="7.7" height="7.7" fill="#505050"/>
<rect x="523.81" y="48.65" width="7.7" height="7.7" fill="#505050"/>
<rect x="531.43" y="47.55" width="7.7" height="7.7" fill="#505050"/>
<rect x="539.05" y="46.15" width="7.7" height="7.7" fill="#505050"/>
<rect x="546.67" y="45.05" width="7.7" height="7.7" fill="#505050"/>
<rect x="554.29" y="43.75" width="7.7" height="7.7" fill="#505050"/>
<rect x="561.91" y="42.35" width="7.7" height="7.7" fill="#505050"/>
<rect x="569.53" y="40.75" width="7.7" height="7.7" fill="#505050"/>
<rect x="577.15" y="39.05" width="7.7" height="7.7" fill="#505050"/>
<rect x="584.77" y="37.45" width="7.7" height="7.7" fill="#505050"/>
<rect x="592.39" y="35.95" width="7.7" height="7.7" fill="#505050"/>
<rect x="600.01" y="34.05" width="7.7" height="7.7" fill="#505050"/>
<rect x="607.63" y="32.45" width="7.7" height="7.7" fill="#505050"/>
<rect x="615.25" y="30.75" width="7.7" height="7.7" fill="#505050"/>
<rect x="622.87" y="29.05" width="7.7" height="7.7" fill="#505050"/>
<rect x="630.49" y="27.65" width="7.7" height="7.7" fill="#505050"/>
<rect x="638.11" y="26.35" width="7.7" height="7.7" fill="#505050"/>
<rect x="645.73" y="25.85" width="7.7" height="7.7" fill="#505050"/>
<path d="M436.3,118.8 C437.56,116.75 441.31,111.4 443.84,106.5 C446.37,101.6 448.92,94.3 451.46,89.4 C454,84.5 456.54,80.48 459.08,77.1 C461.62,73.72 464.16,70.42 466.7,69.1 C469.24,67.78 471.78,69.82 474.32,69.2 C476.86,68.58 479.4,66.33 481.94,65.4 C484.48,64.47 487.02,64.27 489.56,63.6 C492.1,62.93 494.64,62.1 497.18,61.4 C499.72,60.7 502.26,59.95 504.8,59.4 C507.34,58.85 509.88,58.57 512.42,58.1 C514.96,57.63 517.5,57.12 520.04,56.6 C522.58,56.08 525.12,55.45 527.66,55 C530.2,54.55 534.01,54.08 535.28,53.9" fill="none" stroke="#000" stroke-width="1.3" stroke-dasharray="5.4 2 2.5 2 2.5 2"/>
<path d="M436.2,183.5 C437.47,183.03 441.3,184.18 443.84,180.7 C446.38,177.22 448.92,168.17 451.46,162.6 C454,157.03 456.54,151.57 459.08,147.3 C461.62,143.03 464.16,140.2 466.7,137 C469.24,133.8 471.78,131.07 474.32,128.1 C476.86,125.13 479.4,121.77 481.94,119.2 C484.48,116.63 487.02,114.92 489.56,112.7 C492.1,110.48 494.64,108.07 497.18,105.9 C499.72,103.73 502.26,101.83 504.8,99.7 C507.34,97.57 509.88,95 512.42,93.1 C514.96,91.2 517.5,89.77 520.04,88.3 C522.58,86.83 526.39,84.97 527.66,84.3" fill="none" stroke="#f00" stroke-width="1.3" stroke-dasharray="5.4 2 2.5 2 2.5 2"/>
<circle cx="436.22" cy="197.7" r="4.3" fill="url(#ball)"/>
<circle cx="443.84" cy="180.7" r="4.3" fill="url(#ball)"/>
<circle cx="451.46" cy="162.6" r="4.3" fill="url(#ball)"/>
<circle cx="459.08" cy="147.3" r="4.3" fill="url(#ball)"/>
<circle cx="466.7" cy="137" r="4.3" fill="url(#ball)"/>
<circle cx="474.32" cy="128.1" r="4.3" fill="url(#ball)"/>
<circle cx="481.94" cy="119.2" r="4.3" fill="url(#ball)"/>
<circle cx="489.56" cy="112.7" r="4.3" fill="url(#ball)"/>
<circle cx="497.18" cy="105.9" r="4.3" fill="url(#ball)"/>
<circle cx="504.8" cy="99.7" r="4.3" fill="url(#ball)"/>
<circle cx="512.42" cy="93.1" r="4.3" fill="url(#ball)"/>
<circle cx="520.04" cy="88.3" r="4.3" fill="url(#ball)"/>
<circle cx="527.66" cy="84.3" r="4.3" fill="url(#ball2)"/>
<circle cx="535.28" cy="80.61" r="4.3" fill="url(#ball2)"/>
<circle cx="542.9" cy="79.88" r="4.3" fill="url(#ball2)"/>
<circle cx="550.52" cy="79.15" r="4.3" fill="url(#ball2)"/>
<circle cx="558.14" cy="78.4" r="4.3" fill="url(#ball2)"/>
<circle cx="565.76" cy="77.64" r="4.3" fill="url(#ball2)"/>
<circle cx="573.38" cy="76.87" r="4.3" fill="url(#ball2)"/>
<circle cx="581" cy="76.08" r="4.3" fill="url(#ball2)"/>
<circle cx="588.62" cy="75.29" r="4.3" fill="url(#ball2)"/>
<circle cx="596.24" cy="74.48" r="4.3" fill="url(#ball2)"/>
<circle cx="603.86" cy="73.66" r="4.3" fill="url(#ball2)"/>
<circle cx="611.48" cy="72.83" r="4.3" fill="url(#ball2)"/>
<circle cx="619.1" cy="71.98" r="4.3" fill="url(#ball2)"/>
<circle cx="626.72" cy="71.13" r="4.3" fill="url(#ball2)"/>
<circle cx="634.34" cy="70.26" r="4.3" fill="url(#ball2)"/>
<circle cx="641.96" cy="69.38" r="4.3" fill="url(#ball2)"/>
<circle cx="649.58" cy="68.48" r="4.3" fill="url(#ball2)"/>
<path d="M527.66,87.45 L529.02,87.13 L530.39,86.81 L531.78,86.5 L533.2,86.18 L534.63,85.86 L536.08,85.54 L537.55,85.22 L539.05,84.9 L540.56,84.58 L542.09,84.26 L543.64,83.94 L545.22,83.62 L546.82,83.3 L548.43,82.98 L550.08,82.65 L551.74,82.33 L553.42,82.01 L555.13,81.68 L556.87,81.36 L558.62,81.03 L560.4,80.71 L562.21,80.38 L564.04,80.06 L565.89,79.73 L567.77,79.4 L569.68,79.08 L571.61,78.75 L573.57,78.42 L575.55,78.09 L577.56,77.76 L579.6,77.43 L581.67,77.1 L583.77,76.77 L585.89,76.44 L588.04,76.11 L590.23,75.78 L592.44,75.44 L594.68,75.11 L596.96,74.78 L599.26,74.44 L601.6,74.11 L603.97,73.77 L606.37,73.44 L608.8,73.1 L611.27,72.77 L613.77,72.43 L616.31,72.09 L618.88,71.75 L621.48,71.42 L624.12,71.08 L626.8,70.74 L629.51,70.4 L632.27,70.06 L635.05,69.72 L637.88,69.38 L640.75,69.04 L643.65,68.7 L646.6,68.35 L649.58,68.01" fill="none" stroke="#f22" stroke-width="1.2"/>
<path d="M497.18,63.4 L498.55,62.89 L499.95,62.37 L501.38,61.86 L502.84,61.34 L504.33,60.82 L505.85,60.29 L507.39,59.77 L508.97,59.24 L510.58,58.72 L512.22,58.19 L513.9,57.66 L515.61,57.12 L517.35,56.59 L519.13,56.05 L520.94,55.52 L522.79,54.98 L524.68,54.43 L526.6,53.89 L528.56,53.34 L530.57,52.8 L532.61,52.25 L534.69,51.69 L536.82,51.14 L538.98,50.58 L541.19,50.03 L543.45,49.47 L545.75,48.9 L548.1,48.34 L550.49,47.77 L552.93,47.2 L555.42,46.63 L557.96,46.05 L560.55,45.48 L563.2,44.9 L565.89,44.32 L568.64,43.73 L571.45,43.15 L574.31,42.56 L577.23,41.96 L580.2,41.37 L583.24,40.77 L586.34,40.17 L589.5,39.57 L592.72,38.96 L596.01,38.35 L599.36,37.74 L602.78,37.12 L606.27,36.5 L609.83,35.88 L613.46,35.26 L617.16,34.63 L620.94,34 L624.79,33.36 L628.72,32.73 L632.73,32.08 L636.82,31.44 L640.99,30.79 L645.24,30.14 L649.58,29.48" fill="none" stroke="#000" stroke-width="1.3"/>
<rect x="409.6" y="20.7" width="266.1" height="187.4" fill="none" stroke="#000" stroke-width="1.3"/>
<path d="M409.6,200.62 h4 M409.6,159.19 h4 M409.6,117.76 h4 M409.6,76.33 h4 M409.6,34.9 h4 M409.6,207.04 h2 M409.6,204.63 h2 M409.6,202.52 h2 M409.6,188.15 h2 M409.6,180.85 h2 M409.6,175.68 h2 M409.6,171.66 h2 M409.6,168.38 h2 M409.6,165.61 h2 M409.6,163.2 h2 M409.6,161.09 h2 M409.6,146.72 h2 M409.6,139.42 h2 M409.6,134.25 h2 M409.6,130.23 h2 M409.6,126.95 h2 M409.6,124.18 h2 M409.6,121.77 h2 M409.6,119.66 h2 M409.6,105.29 h2 M409.6,97.99 h2 M409.6,92.82 h2 M409.6,88.8 h2 M409.6,85.52 h2 M409.6,82.75 h2 M409.6,80.34 h2 M409.6,78.23 h2 M409.6,63.86 h2 M409.6,56.56 h2 M409.6,51.39 h2 M409.6,47.37 h2 M409.6,44.09 h2 M409.6,41.32 h2 M409.6,38.91 h2 M409.6,36.8 h2 M409.6,22.43 h2 M428.6,208.1 v-4 M447.65,208.1 v-2 M466.7,208.1 v-4 M485.75,208.1 v-2 M504.8,208.1 v-4 M523.85,208.1 v-2 M542.9,208.1 v-4 M561.95,208.1 v-2 M581,208.1 v-4 M600.05,208.1 v-2 M619.1,208.1 v-4 M638.15,208.1 v-2 M657.2,208.1 v-4 M676.25,208.1 v-2" stroke="#000" stroke-width="1.2" fill="none"/>
<text x="405.3" y="205.32" text-anchor="end" font-family="Liberation Sans" font-size="13">1E-10</text>
<text x="405.3" y="163.89" text-anchor="end" font-family="Liberation Sans" font-size="13">1E-9</text>
<text x="405.3" y="122.46" text-anchor="end" font-family="Liberation Sans" font-size="13">1E-8</text>
<text x="405.3" y="81.03" text-anchor="end" font-family="Liberation Sans" font-size="13">1E-7</text>
<text x="405.3" y="39.6" text-anchor="end" font-family="Liberation Sans" font-size="13">1E-6</text>
<text x="428.1" y="223.3" text-anchor="middle" font-family="Liberation Sans" font-size="13">0</text>
<text x="466.2" y="223.3" text-anchor="middle" font-family="Liberation Sans" font-size="13">50</text>
<text x="504.3" y="223.3" text-anchor="middle" font-family="Liberation Sans" font-size="13">100</text>
<text x="542.4" y="223.3" text-anchor="middle" font-family="Liberation Sans" font-size="13">150</text>
<text x="580.5" y="223.3" text-anchor="middle" font-family="Liberation Sans" font-size="13">200</text>
<text x="618.6" y="223.3" text-anchor="middle" font-family="Liberation Sans" font-size="13">250</text>
<text x="656.7" y="223.3" text-anchor="middle" font-family="Liberation Sans" font-size="13">300</text>
<text transform="translate(367.6,198.2) rotate(-90)" font-family="Liberation Serif" font-size="16.8">Current density (A/cm2)</text>
<text x="468.2" y="247.4" font-family="Liberation Serif" font-size="17">Electric field (MV/m)</text>
<text x="429.1" y="45.7" font-family="Liberation Serif" font-size="18">@ 200 °C</text>
<rect x="517.25" y="123.35" width="6.5" height="6.5" fill="#505050"/>
<circle cx="520.5" cy="142.8" r="4.3" fill="url(#ball2)"/>
<path d="M504.7,159.1 H535.5" stroke="#000" stroke-width="1.4"/>
<path d="M504.7,177 H535.5" stroke="#000" stroke-width="1.3" stroke-dasharray="5.4 2 2.5 2 2.5 2"/>
<path d="M504.7,194 H535.5" stroke="#000" stroke-width="1.3" stroke-dasharray="3.3 1.6"/>
<text x="540" y="130.5" font-family="Liberation Serif" font-size="13.5">PEI</text>
<text x="540" y="147.3" font-family="Liberation Serif" font-size="13.5">PEI/BMI PND</text>
<text x="540" y="163.9" font-family="Liberation Serif" font-size="13.5">Poole-Frenkel emission</text>
<text x="540" y="180.9" font-family="Liberation Serif" font-size="13.5">Schottky emission</text>
<text x="540" y="198" font-family="Liberation Serif" font-size="13.5">Hopping conduction</text>
<text x="356.2" y="16.6" font-family="Liberation Sans" font-size="22">b</text>
</g>
<g id="C">
<rect x="73.1" y="430.4" width="31.5" height="27.6" fill="url(#hp)"/>
<rect x="105.1" y="442.6" width="29.8" height="15.4" fill="url(#hg)" stroke="#000" stroke-width="1"/>
<rect x="162.1" y="353.6" width="31.4" height="104.4" fill="url(#hp)"/>
<rect x="194" y="398.5" width="30" height="59.5" fill="url(#hg)" stroke="#000" stroke-width="1"/>
<rect x="250.9" y="336.1" width="31.6" height="121.9" fill="url(#hp)"/>
<rect x="283" y="365.3" width="30" height="92.7" fill="url(#hg)" stroke="#000" stroke-width="1"/>
<path d="M60.7,458 V267.4 H327 V458 H60.7" fill="none" stroke="#000" stroke-width="1.5"/>
<path d="M60.7,458 h3.5 M60.7,423.48 h3.5 M60.7,388.96 h3.5 M60.7,354.44 h3.5 M60.7,319.92 h3.5 M60.7,285.4 h3.5 M60.7,447.61 h1.8 M60.7,441.53 h1.8 M60.7,437.22 h1.8 M60.7,433.87 h1.8 M60.7,431.14 h1.8 M60.7,428.83 h1.8 M60.7,426.83 h1.8 M60.7,425.06 h1.8 M60.7,413.09 h1.8 M60.7,407.01 h1.8 M60.7,402.7 h1.8 M60.7,399.35 h1.8 M60.7,396.62 h1.8 M60.7,394.31 h1.8 M60.7,392.31 h1.8 M60.7,390.54 h1.8 M60.7,378.57 h1.8 M60.7,372.49 h1.8 M60.7,368.18 h1.8 M60.7,364.83 h1.8 M60.7,362.1 h1.8 M60.7,359.79 h1.8 M60.7,357.79 h1.8 M60.7,356.02 h1.8 M60.7,344.05 h1.8 M60.7,337.97 h1.8 M60.7,333.66 h1.8 M60.7,330.31 h1.8 M60.7,327.58 h1.8 M60.7,325.27 h1.8 M60.7,323.27 h1.8 M60.7,321.5 h1.8 M60.7,309.53 h1.8 M60.7,303.45 h1.8 M60.7,299.14 h1.8 M60.7,295.79 h1.8 M60.7,293.06 h1.8 M60.7,290.75 h1.8 M60.7,288.75 h1.8 M60.7,286.98 h1.8 M60.7,275.01 h1.8 M60.7,268.93 h1.8" stroke="#000" stroke-width="1.1" fill="none"/>
<text x="55.8" y="462.7" text-anchor="end" font-family="Liberation Sans" font-size="13">1E-14</text>
<text x="55.8" y="428.18" text-anchor="end" font-family="Liberation Sans" font-size="13">1E-13</text>
<text x="55.8" y="393.66" text-anchor="end" font-family="Liberation Sans" font-size="13">1E-12</text>
<text x="55.8" y="359.14" text-anchor="end" font-family="Liberation Sans" font-size="13">1E-11</text>
<text x="55.8" y="324.62" text-anchor="end" font-family="Liberation Sans" font-size="13">1E-10</text>
<text x="55.8" y="290.1" text-anchor="end" font-family="Liberation Sans" font-size="13">1E-9</text>
<text x="104.5" y="473.2" text-anchor="middle" font-family="Liberation Sans" font-size="13">25</text>
<text x="193.6" y="473.2" text-anchor="middle" font-family="Liberation Sans" font-size="13">150</text>
<text x="282.5" y="473.2" text-anchor="middle" font-family="Liberation Sans" font-size="13">200</text>
<text transform="translate(12.9,463.6) rotate(-90)" font-family="Liberation Serif" font-size="17">Electric Conductivity (S/m)</text>
<g font-family="Liberation Serif"><text x="133.2" y="499.2" font-size="17.2">Temperature</text><text x="223.2" y="499.6" font-size="22">(</text><text x="230.2" y="499.2" font-size="17.2">°C</text><text x="247.2" y="499.6" font-size="22">)</text></g>
<rect x="73.1" y="272.9" width="38.7" height="18.9" fill="url(#hp)"/>
<rect x="73.6" y="295.2" width="37.7" height="17.9" fill="url(#hg)" stroke="#000" stroke-width="1"/>
<text x="116.5" y="288.1" font-family="Liberation Serif" font-size="17">PEI</text>
<text x="116.5" y="309.1" font-family="Liberation Serif" font-size="17">PEI/BMI PND</text>
<text x="71.8" y="332.8" font-family="Liberation Serif" font-size="17">@ 200 MV/m</text>
<text x="3.4" y="258" font-family="Liberation Sans" font-size="22">c</text>
</g>
<g id="D">
<path d="M409.4,455.7 C412.07,455.62 420.05,455.45 425.4,455.2 C430.75,454.95 436.38,454.73 441.5,454.2 C446.62,453.67 450.62,453.08 456.1,452 C461.58,450.92 468.37,449.48 474.4,447.7 C480.43,445.92 486.77,443.43 492.3,441.3 C497.83,439.17 502.48,436.63 507.6,434.9 C512.72,433.17 517.88,431.87 523,430.9 C528.12,429.93 533.62,429.48 538.3,429.1 C542.98,428.72 547.37,428.85 551.1,428.6 C554.83,428.35 557.43,428.55 560.7,427.6 C563.97,426.65 567.55,425.5 570.7,422.9 C573.85,420.3 577.22,416.17 579.6,412 C581.98,407.83 583.07,403.83 585,397.9 C586.93,391.97 589.3,385.33 591.2,376.4 C593.1,367.47 594.7,355.6 596.4,344.3 C598.1,333 600.25,316.03 601.4,308.6 C602.55,301.17 602.98,301.18 603.3,299.7 L603.3,299.7 C603.66,300.74 605.62,302.57 606.4,308.6 C607.18,314.63 609.16,340.98 610,351.4 C610.84,361.82 612.77,388.31 613.6,397.9 C614.43,407.49 616.35,426.73 617.1,433.6 C617.85,440.47 619.66,454.09 620,456.8" fill="none" stroke="#ee3b3b" stroke-width="1.4"/>
<path d="M425.4,455.6 C428.08,455.48 436.38,455.33 441.5,454.9 C446.62,454.47 450.62,453.9 456.1,453 C461.58,452.1 468.37,450.93 474.4,449.5 C480.43,448.07 486.77,445.85 492.3,444.4 C497.83,442.95 502.48,441.95 507.6,440.8 C512.72,439.65 517.88,438.48 523,437.5 C528.12,436.52 534.05,435.75 538.3,434.9 C542.55,434.05 545.8,433.3 548.5,432.4 C551.2,431.5 552.47,430.72 554.5,429.5 C556.53,428.28 558.87,426.85 560.7,425.1 C562.53,423.35 563.83,422.43 565.5,419 C567.17,415.57 568.63,410.23 570.7,404.5 C572.77,398.77 575.82,390.3 577.9,384.6 C579.98,378.9 581.53,374.62 583.2,370.3 C584.87,365.98 587.12,360.63 587.9,358.7 L587.9,358.7 C588.31,360.36 590.7,368.75 591.4,372.9 C592.1,377.05 593.19,388.63 593.9,394.3 C594.61,399.97 596.54,415.78 597.5,421.5 C598.46,427.22 601.06,439.33 602.1,443.3 C603.14,447.27 605.74,453.9 606.4,455.5 C607.06,457.1 607.64,456.82 607.8,457" fill="none" stroke="#000" stroke-width="1.8" stroke-linejoin="round"/>
<path d="M408.8,457.4 V266.8 H675.5 V457.4 H408.8" fill="none" stroke="#000" stroke-width="1.7"/>
<path d="M408.8,457.4 h5 M408.8,445.49 h2.5 M408.8,433.57 h5 M408.8,421.66 h2.5 M408.8,409.75 h5 M408.8,397.84 h2.5 M408.8,385.92 h5 M408.8,374.01 h2.5 M408.8,362.1 h5 M408.8,350.19 h2.5 M408.8,338.27 h5 M408.8,326.36 h2.5 M408.8,314.45 h5 M408.8,302.54 h2.5 M408.8,290.62 h5 M408.8,278.71 h2.5 M408.8,266.8 h5 M408.8,457.4 v-5 M425.4,457.4 v-2.5 M442,457.4 v-5 M458.6,457.4 v-2.5 M475.2,457.4 v-5 M491.8,457.4 v-2.5 M508.4,457.4 v-5 M525,457.4 v-2.5 M541.6,457.4 v-5 M558.2,457.4 v-2.5 M574.8,457.4 v-5 M591.4,457.4 v-2.5 M608,457.4 v-5 M624.6,457.4 v-2.5 M641.2,457.4 v-5 M657.8,457.4 v-2.5 M674.4,457.4 v-5" stroke="#000" stroke-width="1.3" fill="none"/>
<text x="403.2" y="462" text-anchor="end" font-family="Liberation Serif" font-size="14">0</text>
<text x="403.2" y="438.18" text-anchor="end" font-family="Liberation Serif" font-size="14">20</text>
<text x="403.2" y="414.35" text-anchor="end" font-family="Liberation Serif" font-size="14">40</text>
<text x="403.2" y="390.52" text-anchor="end" font-family="Liberation Serif" font-size="14">60</text>
<text x="403.2" y="366.7" text-anchor="end" font-family="Liberation Serif" font-size="14">80</text>
<text x="403.2" y="342.88" text-anchor="end" font-family="Liberation Serif" font-size="14">100</text>
<text x="403.2" y="319.05" text-anchor="end" font-family="Liberation Serif" font-size="14">120</text>
<text x="403.2" y="295.23" text-anchor="end" font-family="Liberation Serif" font-size="14">140</text>
<text x="403.2" y="271.4" text-anchor="end" font-family="Liberation Serif" font-size="14">160</text>
<text x="408.8" y="473.4" text-anchor="middle" font-family="Liberation Serif" font-size="14">100</text>
<text x="442" y="473.4" text-anchor="middle" font-family="Liberation Serif" font-size="14">120</text>
<text x="475.2" y="473.4" text-anchor="middle" font-family="Liberation Serif" font-size="14">140</text>
<text x="508.4" y="473.4" text-anchor="middle" font-family="Liberation Serif" font-size="14">160</text>
<text x="541.6" y="473.4" text-anchor="middle" font-family="Liberation Serif" font-size="14">180</text>
<text x="574.8" y="473.4" text-anchor="middle" font-family="Liberation Serif" font-size="14">200</text>
<text x="608" y="473.4" text-anchor="middle" font-family="Liberation Serif" font-size="14">220</text>
<text x="641.2" y="473.4" text-anchor="middle" font-family="Liberation Serif" font-size="14">240</text>
<text x="674.4" y="473.4" text-anchor="middle" font-family="Liberation Serif" font-size="14">260</text>
<text transform="translate(375.8,407) rotate(-90)" font-family="Liberation Serif" font-size="16.8">Current (pA)</text>
<text x="483.6" y="497.7" font-family="Liberation Serif" font-size="17">Temperature (°C)</text>
<path d="M419.2,281.8 H458.6" stroke="#000" stroke-width="1.8"/>
<path d="M419.2,303.4 H458.6" stroke="#ee3b3b" stroke-width="1.4"/>
<text x="463.3" y="287.9" font-family="Liberation Serif" font-size="17">PEI</text>
<text x="463.3" y="308.9" font-family="Liberation Serif" font-size="17">PEI/BMI PND</text>
<text x="509.5" y="337.9" font-family="Liberation Serif" font-size="14">207.2 °C</text>
<text x="509.2" y="358.9" font-family="Liberation Serif" font-size="14">1.35 eV</text>
<text x="620.0" y="285.9" font-family="Liberation Serif" font-size="14.5" fill="#f00">217.5 °C</text>
<text x="621.5" y="309" font-family="Liberation Serif" font-size="14.5" fill="#f00">1.81 eV</text>
<path d="M563.20,341.50 L581.68,354.37" stroke="#000" stroke-width="1.2"/>
<path d="M586.60,357.80 L579.89,356.05 L582.64,352.12 Z" fill="#000"/>
<path d="M619.40,282.70 L608.35,292.68" stroke="#f00" stroke-width="1.3"/>
<path d="M603.90,296.70 L607.05,290.49 L610.40,294.20 Z" fill="#f00"/>
<text x="356.4" y="258.8" font-family="Liberation Sans" font-size="22">d</text>
</g>
</svg></body></html>
